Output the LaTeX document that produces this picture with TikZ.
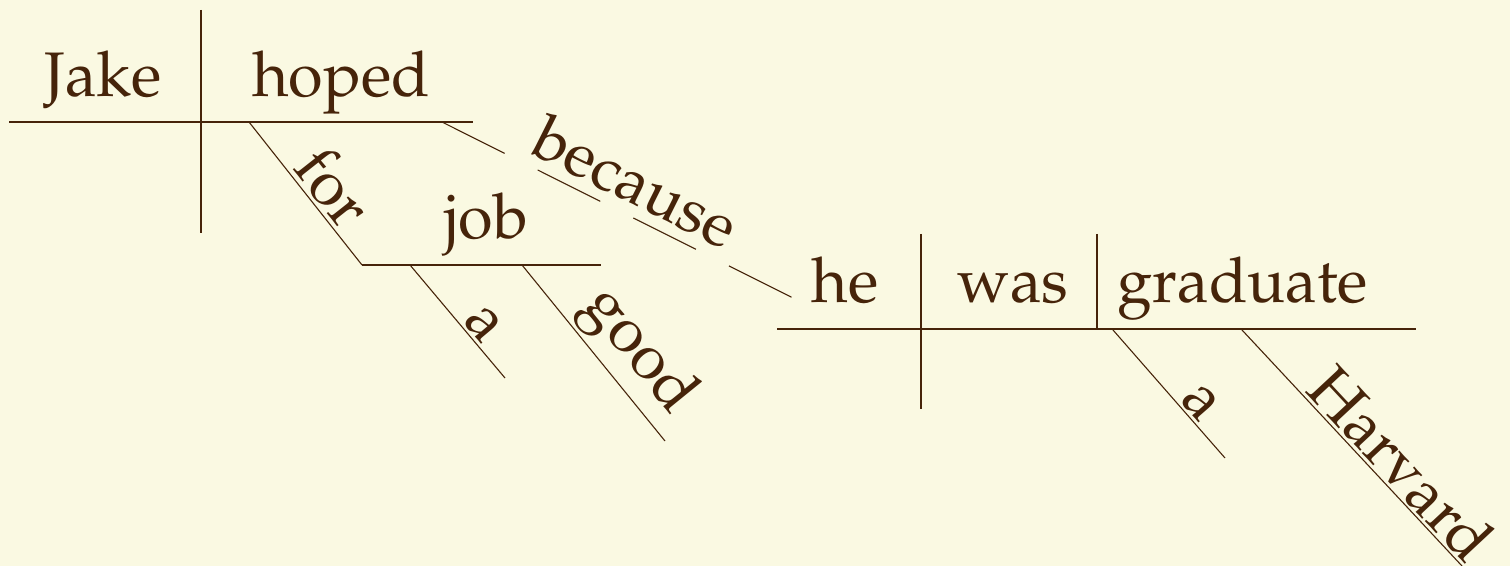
\documentclass[tikz,border=0pt]{standalone}
\usepackage[T1]{fontenc}
\usepackage{mathpazo}
\usepackage{xcolor}
\definecolor{paper}{HTML}{FAF9E2}
\definecolor{ink}{HTML}{46240A}

\begin{document}
\begin{tikzpicture}[x=0.5pt,y=-0.5pt,
  word/.style={font=\fontsize{31.5}{36}\selectfont,text=ink,inner sep=0pt,anchor=base},
  lbl/.style={font=\fontsize{31.5}{36}\selectfont,text=ink,sloped,above,inner sep=1.5pt},
  baseln/.style={draw=ink,line width=1pt},
  modln/.style={draw=ink,line width=0.55pt}]
\fill[paper] (0,0) rectangle (1510,566);
\useasboundingbox (0,0) rectangle (1510,566);
% main clause
\coordinate (b1w) at (9,122);   \coordinate (b1e) at (473,122);
\coordinate (d1t) at (201,10);  \coordinate (d1b) at (201,233);
\node[word] (jake) at (103,97) {Jake};
\node[word] (hoped) at (341,97) {hoped};
\draw[baseln] (b1w) -- (b1e);
\draw[baseln] (d1t) -- (d1b);
% for ... job
\coordinate (forS) at (249,122); \coordinate (forE) at (362,265);
\coordinate (jobE) at (601,265);
\coordinate (a1S) at (410,265);  \coordinate (a1E) at (505,378);
\coordinate (goodS) at (522,265); \coordinate (goodE) at (665,441);
\draw[modln] (forS) -- node[lbl,pos=0.57] (for) {for} (forE);
\draw[baseln] (forE) -- (jobE);
\node[word] (job) at (486,239) {job};
\draw[modln] (a1S) -- node[lbl,pos=0.63] (a1) {a} (a1E);
\draw[modln] (goodS) -- node[lbl,pos=0.62] (good) {good} (goodE);
% because
\coordinate (becS) at (442,122); \coordinate (becE) at (793,298);
\draw[modln,dash pattern=on 35pt off 18.5pt] (becS) -- (becE);
\path (becS) -- node[lbl,pos=0.51,inner sep=5pt] (because) {because} (becE);
% subordinate clause
\coordinate (b2w) at (777,329);  \coordinate (b2e) at (1416,329);
\coordinate (d2t) at (921,234);  \coordinate (d2b) at (921,409);
\coordinate (d3t) at (1097,234); \coordinate (d3b) at (1097,329);
\node[word] (he) at (845,303) {he};
\node[word] (was) at (1013,303) {was};
\node[word] (grad) at (1243,303) {graduate};
\draw[baseln] (b2w) -- (b2e);
\draw[baseln] (d2t) -- (d2b);
\draw[baseln] (d3t) -- (d3b);
\coordinate (a2S) at (1113,330); \coordinate (a2E) at (1225,458);
\coordinate (harS) at (1242,330); \coordinate (harE) at (1462,566);
\draw[modln] (a2S) -- node[lbl,pos=0.66] (a2) {a} (a2E);
\draw[modln] (harS) -- node[lbl,pos=0.64] (harvard) {Harvard} (harE);
\end{tikzpicture}
\end{document}
